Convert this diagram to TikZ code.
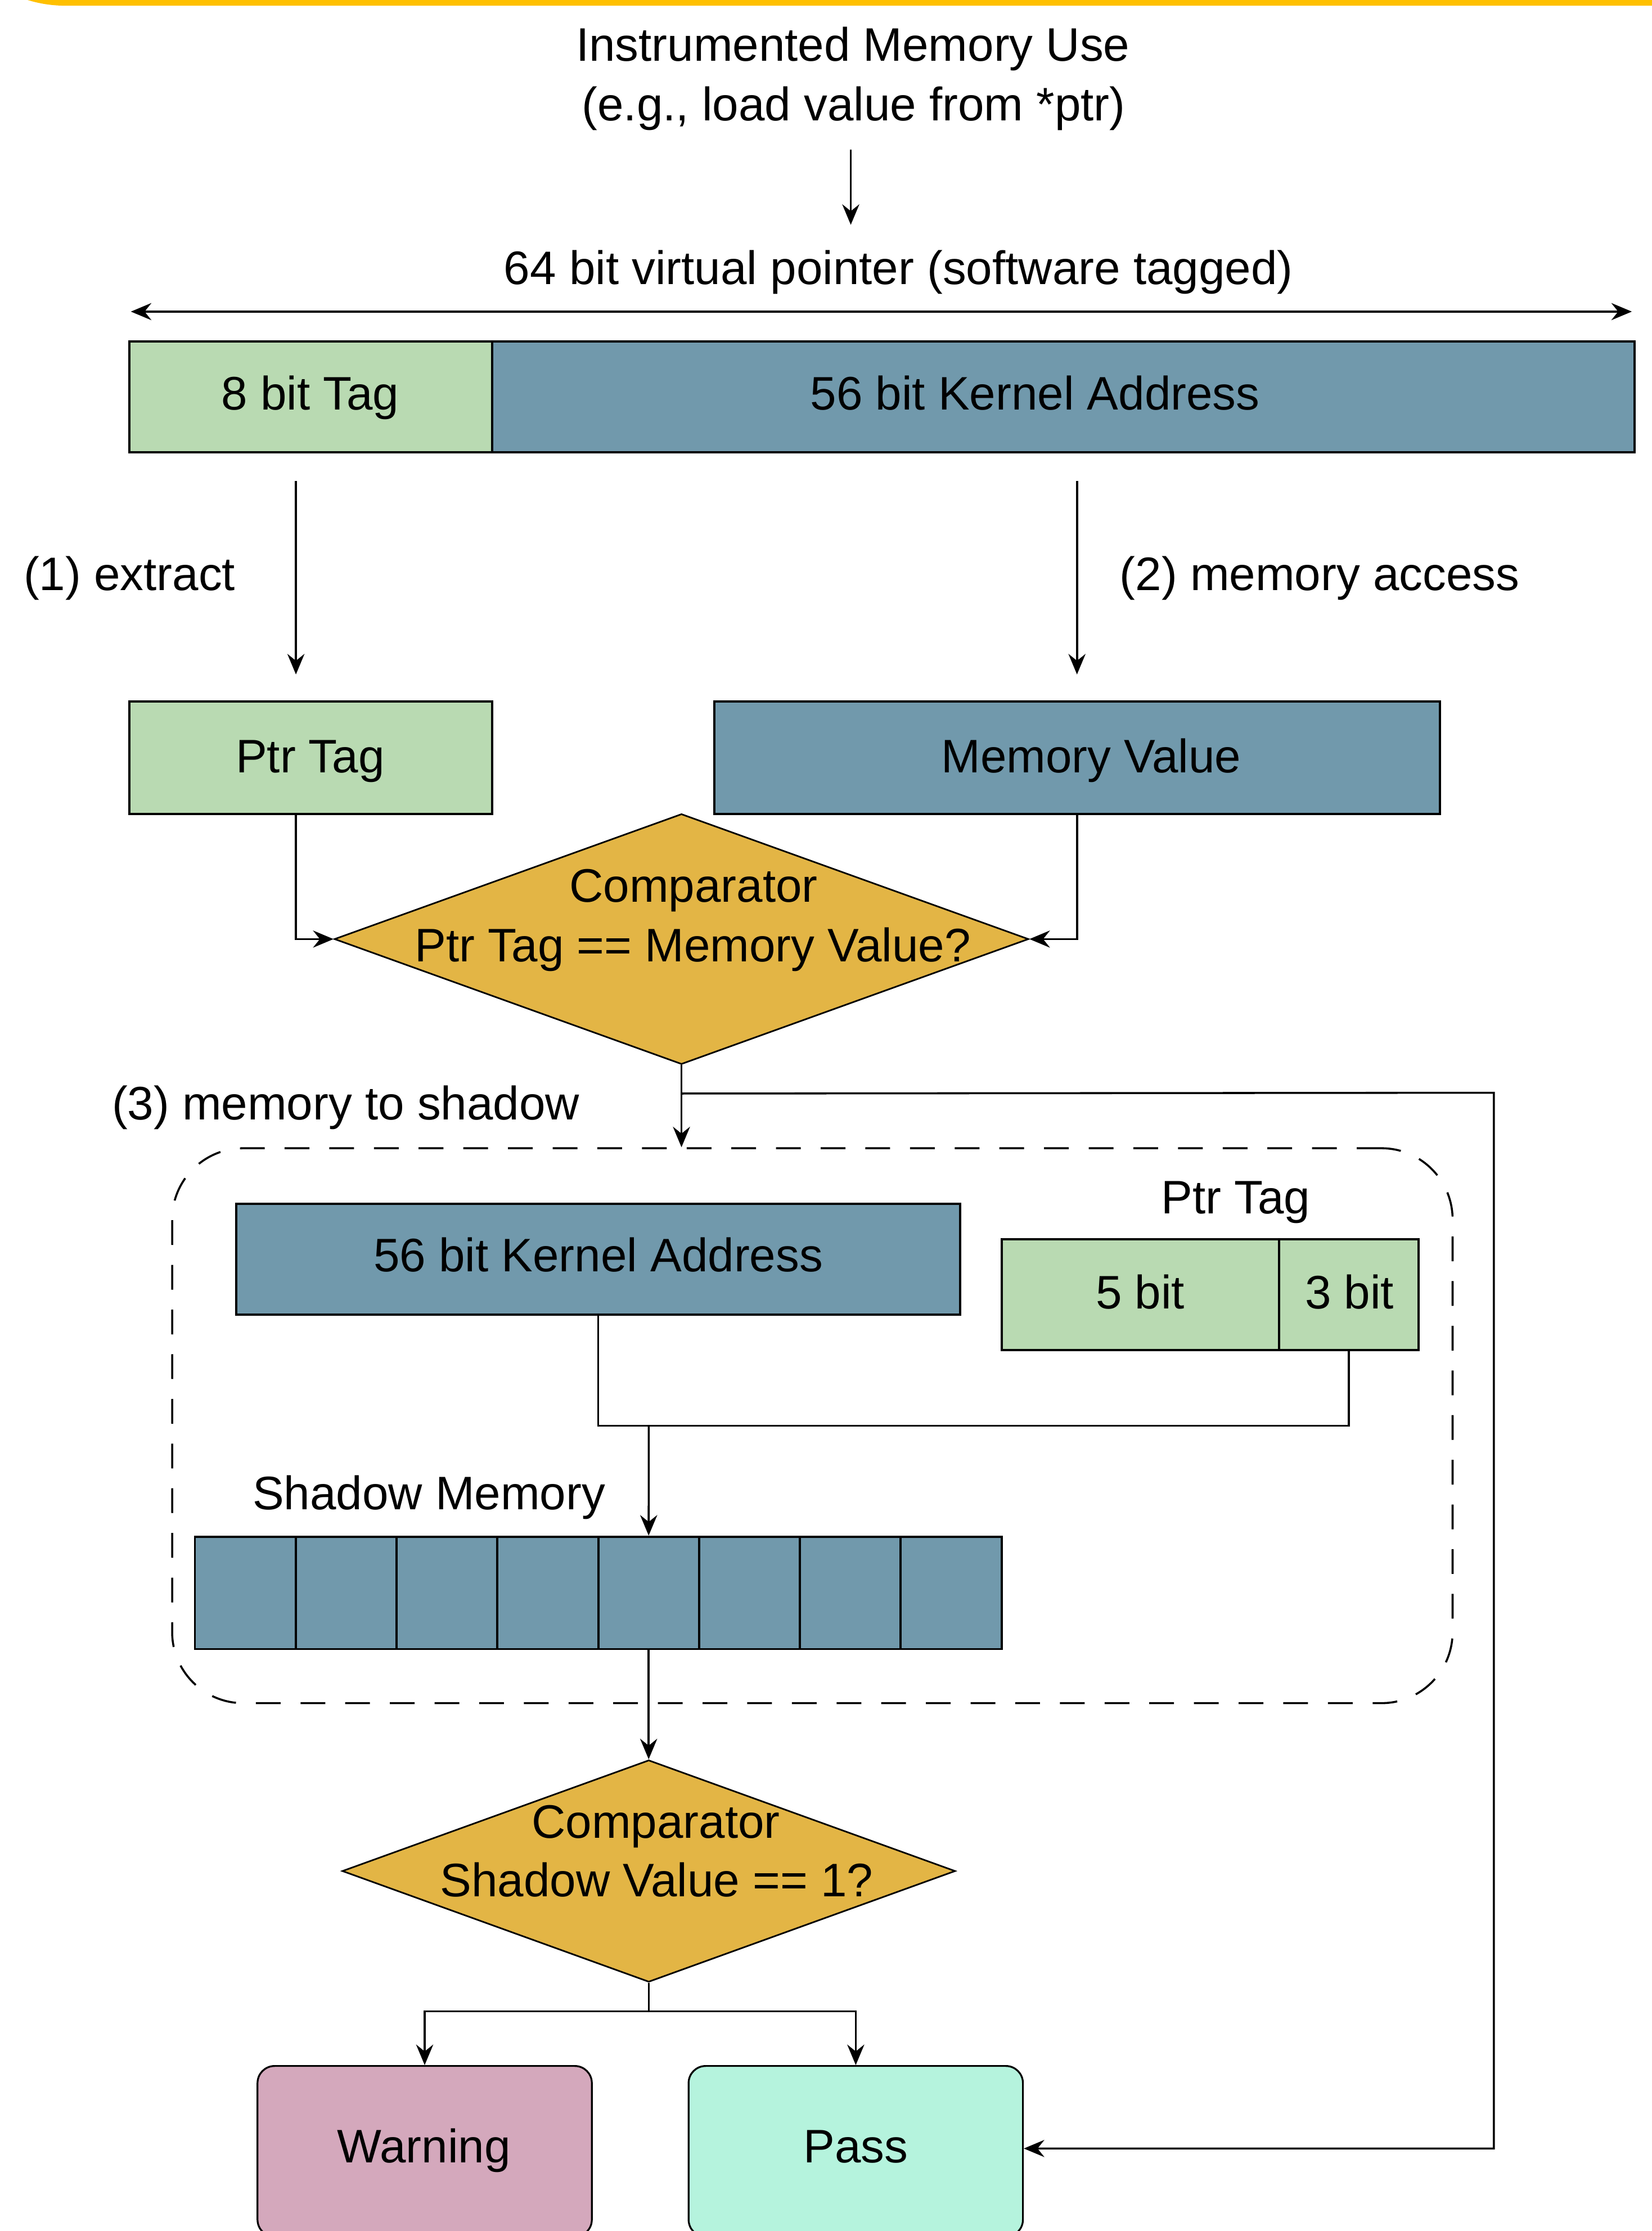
\documentclass[tikz,border=0pt]{standalone}
\usepackage{fontspec}
\setmainfont{Liberation Sans}
\usetikzlibrary{shapes.geometric,arrows.meta,calc}
\definecolor{tagfill}{HTML}{B9DAB2}
\definecolor{addrfill}{HTML}{7199AC}
\definecolor{cmpfill}{HTML}{E3B545}
\definecolor{warnfill}{HTML}{D4A8BC}
\definecolor{passfill}{HTML}{B5F3DD}
\definecolor{banner}{HTML}{FFC000}
\newcommand{\unitpx}{0.05cm}
\begin{document}
\begin{tikzpicture}[x=0.05cm, y=-0.05cm,
  txt/.style={font=\fontsize{47}{56}\selectfont, inner sep=0pt, text height=33.7pt, text depth=0pt, anchor=center},
  field/.style={draw, line width=2.2pt, inner sep=0pt, rectangle},
  tagbox/.style={field, fill=tagfill},
  addrbox/.style={field, fill=addrfill},
  cmpbox/.style={diamond, draw, line width=1.6pt, fill=cmpfill, inner sep=0pt},
  endbox/.style={draw, line width=1.8pt, rounded corners=0.6cm, inner sep=0pt, rectangle},
  group/.style={draw, line width=2pt, dash pattern=on 0.87cm off 0.7cm, rounded corners=2.5cm, inner sep=0pt, rectangle},
  conn/.style={line width=2pt},
  tip/.tip={Stealth[length=0.72cm, width=0.6cm, inset=0.24cm]},
  arr/.style={conn, -tip},
  dbl/.style={conn, tip-tip},
]
\useasboundingbox (0,0) rectangle (1161,1568);

% banner edge along the top
\fill[banner, rounded corners=4.5cm] (-44,-300) rectangle (1300,4);

% instrumented access
\node[txt] (use1) at (599.5,31) {Instrumented Memory Use};
\node[txt] (use2) at (600,73) {(e.g., load value from *ptr)};
\coordinate (useA) at (598,105);
\coordinate (useB) at (598,158);
\draw[arr] (useA) -- (useB);

% 64 bit tagged pointer
\node[txt] (vptr) at (631.5,188) {64 bit virtual pointer (software tagged)};
\coordinate (spanL) at (92,219);
\coordinate (spanR) at (1147,219);
\draw[dbl] (spanL) -- (spanR);

\node[tagbox, minimum width=255*\unitpx, minimum height=78*\unitpx] (tagbar) at (218.5,279) {};
\node[addrbox, minimum width=803*\unitpx, minimum height=78*\unitpx] (addrbar) at (747.5,279) {};
\node[txt] (tagbartxt) at (218,276) {8 bit Tag};
\node[txt] (addrbartxt) at (727.5,276) {56 bit Kernel Address};

% extraction and memory access
\coordinate (exA) at (208,338);
\coordinate (exB) at (208,474);
\coordinate (maA) at (757,338);
\coordinate (maB) at (757,474);
\draw[arr] (exA) -- (exB);
\draw[arr] (maA) -- (maB);
\node[txt] (extxt) at (91,403) {(1) extract};
\node[txt] (matxt) at (927.5,403) {(2) memory access};

\node[tagbox, minimum width=255*\unitpx, minimum height=79*\unitpx] (ptrtag) at (218.5,532.5) {};
\node[addrbox, minimum width=510*\unitpx, minimum height=79*\unitpx] (memval) at (757,532.5) {};
\node[txt] (ptrtagtxt) at (218,531) {Ptr Tag};
\node[txt] (memvaltxt) at (767,531) {Memory Value};

% first comparator
\node[cmpbox, minimum width=488*\unitpx, minimum height=176*\unitpx] (cmp1) at (479,660) {};
\node[txt] (cmp1a) at (487.5,622) {Comparator};
\node[txt] (cmp1b) at (487,664) {Ptr Tag == Memory Value?};
\draw[arr] ([xshift=-10.5*\unitpx]ptrtag.south) |- (cmp1.west);
\draw[arr] (memval.south) |- (cmp1.east);

% memory to shadow translation
\node[txt] (m2stxt) at (243,775) {(3) memory to shadow};
\node[group, minimum width=900*\unitpx, minimum height=390*\unitpx] (dashbox) at (571,1002) {};
\draw[arr] (cmp1.south) -- (cmp1.south |- dashbox.north);

\node[addrbox, minimum width=509*\unitpx, minimum height=78*\unitpx] (kaddr) at (420.5,885) {};
\node[txt] (kaddrtxt) at (420.5,882) {56 bit Kernel Address};
\node[txt] (ptrtag2txt) at (868.5,841) {Ptr Tag};
\node[tagbox, minimum width=195*\unitpx, minimum height=78*\unitpx] (bit5) at (801.5,910) {};
\node[tagbox, minimum width=98*\unitpx, minimum height=78*\unitpx] (bit3) at (948,910) {};
\node[txt] (bit5txt) at (801.5,908) {5 bit};
\node[txt] (bit3txt) at (948.5,908) {3 bit};

\node[txt] (shadowtxt) at (301.5,1049) {Shadow Memory};
\foreach \i in {1,...,8}
  \node[addrbox, minimum width=70.875*\unitpx, minimum height=79*\unitpx] (cell\i) at ({137+70.875*(\i-0.5)},1119.5) {};

\coordinate (merge) at (456,1002);
\draw[conn] (kaddr.south) |- (merge) -| (bit3.south);
\draw[arr] (merge) -- (cell5.north);

% second comparator
\node[cmpbox, minimum width=431*\unitpx, minimum height=156*\unitpx] (cmp2) at (456,1315) {};
\node[txt] (cmp2a) at (461,1280) {Comparator};
\node[txt] (cmp2b) at (461.5,1321) {Shadow Value == 1?};
\draw[arr] (cell5.south) -- (cell5.south |- cmp2.north);

% outcomes
\node[endbox, fill=warnfill, minimum width=235*\unitpx, minimum height=120*\unitpx] (warn) at (298.5,1512) {};
\node[endbox, fill=passfill, minimum width=235*\unitpx, minimum height=120*\unitpx] (pass) at (601.5,1512) {};
\node[txt] (warntxt) at (298,1508) {Warning};
\node[txt] (passtxt) at (601.5,1508) {Pass};

\draw[conn] (cmp2.south) -- ++(0,20) coordinate (split);
\draw[arr] (split) -| (warn.north);
\draw[arr] (split) -| (pass.north);

\coordinate (bend) at (1050,768);
\draw[arr] ($(cmp1.south)+(0,20)$) -- (bend) |- ([yshift=2*\unitpx]pass.east);
\end{tikzpicture}
\end{document}
